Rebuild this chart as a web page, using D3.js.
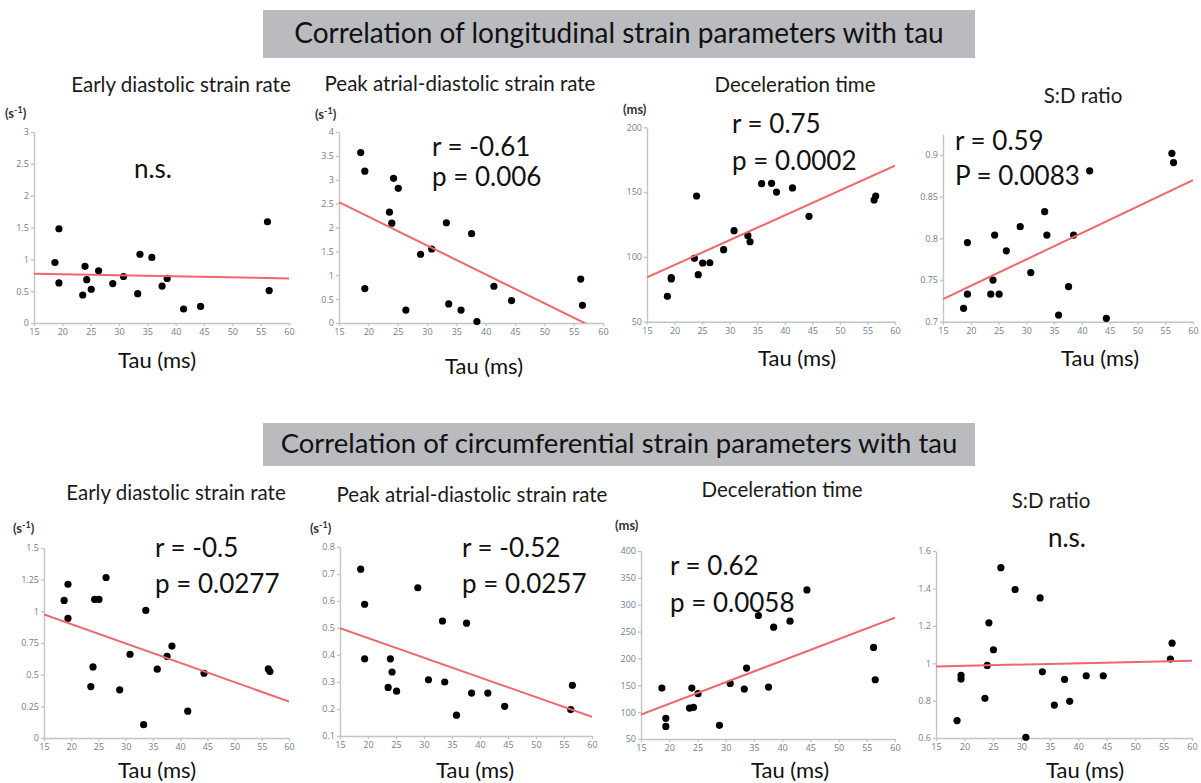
<!DOCTYPE html>
<html>
<head>
<meta charset="utf-8">
<script src="https://cdn.jsdelivr.net/npm/d3@7"></script>
<style>
  body { margin: 0; background: #fff; }
  svg { font-family: Lato, "Open Sans", sans-serif; }
  .axis path, .axis line { stroke: #c4c4c4; stroke-width: 1.4; }
  .axis text { fill: #6e8094; font-size: 9px; font-family: "Open Sans", sans-serif; }
</style>
</head>
<body>
<svg id="svg" width="1201" height="783"></svg>
<script>
// tau (ms) of the 19 patients, shared by every panel
const tau = [18.7, 19.4, 19.4, 23.6, 24.0, 24.3, 25.1, 26.4, 28.9, 30.8, 33.3, 33.7, 35.8, 37.6, 38.5, 41.4, 44.4, 56.2, 56.5];

// longitudinal
const longEarly = [0.95, 1.48, 0.63, 0.44, 0.89, 0.68, 0.53, 0.82, 0.62, 0.73, 0.46, 1.08, 1.03, 0.58, 0.70, 0.22, 0.26, 1.59, 0.51];
const longAtrial = [3.57, 3.18, 0.72, 2.32, 2.09, 3.03, 2.82, 0.27, 1.44, 1.55, 2.10, 0.40, 0.27, 1.87, 0.03, 0.77, 0.47, 0.92, 0.37];
const longDecel = [69.6, 84, 83, 98.9, 147, 86.3, 95.3, 95.5, 105.6, 120.2, 116.4, 111.7, 156.5, 156.8, 150, 153.2, 131.3, 143.9, 147];
const longSD = [0.716, 0.795, 0.733, 0.733, 0.750, 0.804, 0.733, 0.785, 0.814, 0.759, 0.832, 0.804, 0.708, 0.742, 0.804, 0.881, 0.704, 0.902, 0.891];
// circumferential
const circEarly = [1.086, 1.214, 0.944, 0.406, 0.561, 1.094, 1.094, 1.267, 0.380, 0.661, 0.105, 1.007, 0.543, 0.645, 0.726, 0.212, 0.511, 0.545, 0.525];
const circAtrial = [0.718, 0.588, 0.386, 0.280, 0.386, 0.337, 0.266, null, 0.649, 0.308, 0.526, 0.300, 0.177, 0.518, 0.259, 0.259, 0.210, 0.198, 0.288];
const circDecel = [144.8, 88.4, 73.5, 107.6, 144.8, 108.9, 134.3, null, 75.4, 153.5, 142.9, 182, 279.9, 146.7, 258.2, 269.3, 327.6, 220.4, 160.3];
const circSD = [0.693, 0.935, 0.915, 0.812, 0.988, 1.216, 1.072, 1.511, 1.394, 0.604, 1.349, 0.954, 0.776, 0.913, 0.796, 0.933, 0.933, 1.022, 1.107];

// regression line value at tau = 15 and tau = 60
const fitLines = [[0.775, 0.70], [2.53, -0.19], [84.2, 170.4], [0.727, 0.87],
                  [0.976, 0.288], [0.499, 0.171], [95.5, 276], [0.983, 1.013]];

const sectionTitles = ["Correlation of longitudinal strain parameters with tau",
                       "Correlation of circumferential strain parameters with tau"];
const panelTitles = ["Early diastolic strain rate", "Peak atrial-diastolic strain rate", "Deceleration time", "S:D ratio",
                     "Early diastolic strain rate", "Peak atrial-diastolic strain rate", "Deceleration time", "S:D ratio"];
// unit label: [base, superscript]
const units = [["s", "-1"], ["s", "-1"], ["ms", ""], null, ["s", "-1"], ["s", "-1"], ["ms", ""], null];
const stats = [["n.s."], ["r = -0.61", "p = 0.006"], ["r = 0.75", "p = 0.0002"], ["r = 0.59", "P = 0.0083"],
               ["r = -0.5", "p = 0.0277"], ["r = -0.52", "p = 0.0257"], ["r = 0.62", "p = 0.0058"], ["n.s."]];
const xTicks = [15, 20, 25, 30, 35, 40, 45, 50, 55, 60];
const yTicks = [
  [0, 0.5, 1, 1.5, 2, 2.5, 3],
  [0, 0.5, 1, 1.5, 2, 2.5, 3, 3.5, 4],
  [50, 100, 150, 200],
  [0.7, 0.75, 0.8, 0.85, 0.9],
  [0, 0.25, 0.5, 0.75, 1, 1.25, 1.5],
  [0.1, 0.2, 0.3, 0.4, 0.5, 0.6, 0.7, 0.8],
  [50, 100, 150, 200, 250, 300, 350, 400],
  [0.6, 0.8, 1, 1.2, 1.4, 1.6]
];
const yDomains = [[0, 3], [0, 4], [50, 200], [0.7, 0.925], [0, 1.5], [0.1, 0.8], [50, 400], [0.6, 1.6]];
const series = [longEarly, longAtrial, longDecel, longSD, circEarly, circAtrial, circDecel, circSD];

// layout of each panel (pixels)
const frames = [
  {l: 34, r: 289, b: 323, t: 132, tx: 181, ty: 92, ux: 5, uy: 118, sx: 153, sy: [178], mid: true, lx: 157, ly: 368},
  {l: 339, r: 603, b: 323, t: 132, tx: 460, ty: 91, ux: 315, uy: 119, sx: 432, sy: [156, 186], lx: 484, ly: 374},
  {l: 647, r: 895, b: 321.7, t: 127.3, tx: 795, ty: 92, ux: 623, uy: 114, sx: 732, sy: [133, 170], lx: 797, ly: 366},
  {l: 943, r: 1193, b: 321.7, t: 134.2, tx: 1083, ty: 103, ux: 0, uy: 0, sx: 955, sy: [150, 185], lx: 1100, ly: 366},
  {l: 44, r: 289, b: 738, t: 548, tx: 176, ty: 500, ux: 13, uy: 533, sx: 155, sy: [557, 593], lx: 157, ly: 778},
  {l: 340, r: 592, b: 736, t: 547, tx: 472, ty: 502, ux: 310, uy: 533, sx: 462, sy: [557, 593], lx: 475, ly: 778},
  {l: 641, r: 895, b: 739, t: 551, tx: 782, ty: 497, ux: 615, uy: 530, sx: 670, sy: [575, 612], lx: 790, ly: 778},
  {l: 936, r: 1192, b: 738, t: 551, tx: 1051, ty: 508, ux: 0, uy: 0, sx: 1067, sy: [547], mid: true, lx: 1085, ly: 778}
];

const svg = d3.select("#svg");

// section header boxes
const boxes = [{y: 10, h: 48, ty: 43}, {y: 423, h: 43, ty: 453}];
boxes.forEach((bx, i) => {
  svg.append("rect").attr("x", 263).attr("y", bx.y).attr("width", 712).attr("height", bx.h).attr("fill", "#b9bbbe");
  svg.append("text").attr("x", 619).attr("y", bx.ty).attr("text-anchor", "middle")
    .attr("font-size", i ? 27.5 : 28).attr("fill", "#111").text(sectionTitles[i]);
});

frames.forEach((f, i) => {
  const x = d3.scaleLinear().domain([15, 60]).range([f.l, f.r]);
  const y = d3.scaleLinear().domain(yDomains[i]).range([f.b, f.t]);
  const g = svg.append("g");

  g.append("clipPath").attr("id", "clip" + i)
    .append("rect").attr("x", f.l).attr("y", f.t).attr("width", f.r - f.l).attr("height", f.b - f.t);

  g.append("g").attr("class", "axis").attr("transform", "translate(0," + f.b + ")")
    .call(d3.axisBottom(x).tickValues(xTicks).tickSize(3).tickSizeOuter(0).tickPadding(3).tickFormat(d => String(d)));
  g.append("g").attr("class", "axis").attr("transform", "translate(" + f.l + ",0)")
    .call(d3.axisLeft(y).tickValues(yTicks[i]).tickSize(3).tickSizeOuter(0).tickPadding(2).tickFormat(d => String(d)));

  const pts = tau.map((t, k) => [t, series[i][k]]).filter(p => p[1] != null);
  g.selectAll("circle.pt").data(pts).enter().append("circle")
    .attr("cx", d => x(d[0])).attr("cy", d => y(d[1])).attr("r", 3.6).attr("fill", "#000");

  g.append("path").attr("clip-path", "url(#clip" + i + ")")
    .attr("d", d3.line().x(d => x(d[0])).y(d => y(d[1]))([[15, fitLines[i][0]], [60, fitLines[i][1]]]))
    .attr("fill", "none").style("stroke", "#f0666b").style("stroke-width", 2);

  g.append("text").attr("x", f.tx).attr("y", f.ty).attr("text-anchor", "middle")
    .attr("font-size", 20.5).attr("fill", "#1a1a1a").text(panelTitles[i]);

  if (units[i]) {
    const u = g.append("text").attr("x", f.ux).attr("y", f.uy).attr("font-size", 13)
      .attr("font-weight", "bold").attr("fill", "#333");
    u.append("tspan").text("(" + units[i][0]);
    if (units[i][1]) u.append("tspan").attr("dy", -5).attr("font-size", 9).text(units[i][1]);
    u.append("tspan").attr("dy", units[i][1] ? 5 : 0).text(")");
  }

  stats[i].forEach((s, k) => {
    g.append("text").attr("x", f.sx).attr("y", f.sy[k]).attr("text-anchor", f.mid ? "middle" : "start")
      .attr("font-size", 26).attr("fill", "#111").text(s);
  });

  g.append("text").attr("x", f.lx).attr("y", f.ly).attr("text-anchor", "middle")
    .attr("font-size", 22).attr("fill", "#111").text("Tau (ms)");
});
</script>
</body>
</html>
